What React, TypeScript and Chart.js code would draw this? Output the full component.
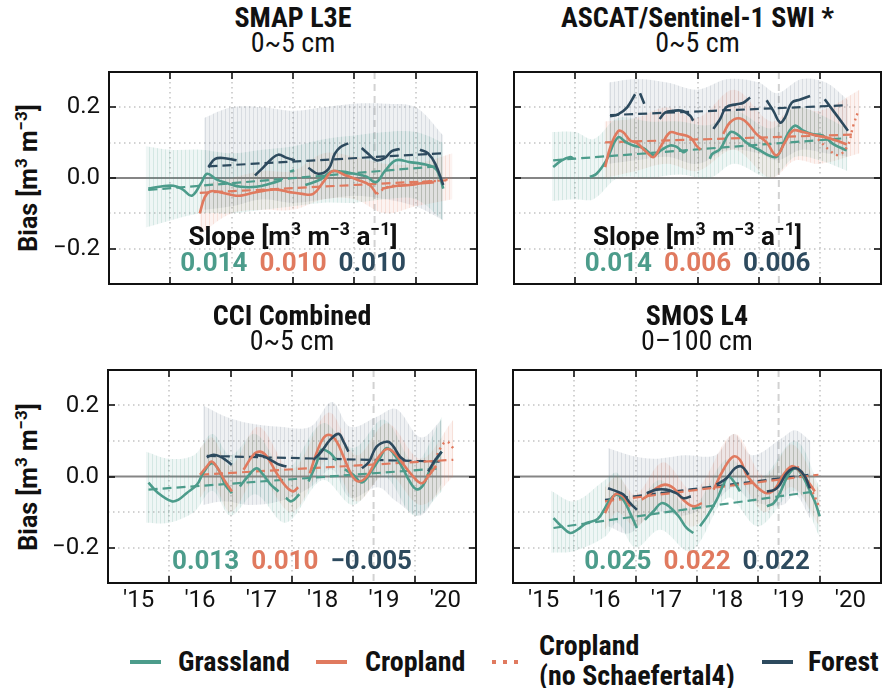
import React, { useEffect, useRef } from 'react';
import { Chart, registerables } from 'chart.js';
Chart.register(...registerables);

type Pt = [number, number] | null;
type Bd = [number, number, number];

// ---------- axis / tick values ----------
const X_LABEL_POS = [2015.5, 2016.5, 2017.5, 2018.5, 2019.5, 2020.5];
const X_GRID = [2016, 2017, 2018, 2019, 2020];
const Y_TICKS = [-0.2, 0, 0.2];
const Y_GRID = [-0.2, -0.1, 0.1, 0.2];
const MARKER_YEAR = 2019.33;

// ---------- SMAP L3E ----------
const smapGrass: Pt[] = [[2015.64,-0.030],[2015.85,-0.024],[2016.05,-0.022],[2016.2,-0.032],[2016.35,-0.05],[2016.5,-0.015],[2016.6,0.012],[2016.75,-0.004],[2016.95,-0.016],[2017.15,-0.025],[2017.4,-0.025],[2017.65,-0.015],[2017.82,-0.006],null,[2017.95,0.018],[2018.02,0.022],null,[2018.2,-0.02],[2018.45,-0.004],[2018.62,0.018],[2018.8,0.018],[2019.0,0.012],[2019.2,0.004],[2019.35,-0.012],[2019.5,0.02],[2019.68,0.05],[2019.9,0.045],[2020.1,0.04],[2020.3,0.03],[2020.38,0.01],[2020.45,-0.03]];
const smapCrop: Pt[] = [[2016.48,-0.10],[2016.56,-0.055],[2016.65,-0.038],[2016.8,-0.04],[2017.0,-0.048],[2017.15,-0.05],[2017.35,-0.042],[2017.55,-0.035],[2017.75,-0.033],[2017.95,-0.04],[2018.15,-0.045],[2018.33,-0.045],[2018.5,-0.01],[2018.65,0.02],[2018.85,0.008],[2019.05,-0.005],[2019.25,-0.02],[2019.36,-0.045],null,[2019.45,-0.03],[2019.7,-0.022],[2019.9,-0.02],[2020.1,-0.015],[2020.3,-0.012]];
const smapCropNoS4: Pt[] = [[2019.36,-0.045],[2019.55,-0.025],[2019.8,-0.02],[2020.1,-0.012],[2020.35,-0.008],[2020.56,-0.003]];
const smapForest: Pt[] = [[2016.62,0.031],[2016.73,0.054],[2016.89,0.056],[2017.08,0.05],null,[2017.38,0.007],[2017.52,0.031],[2017.65,0.054],[2017.76,0.066],[2017.9,0.057],[2018.03,0.05],null,[2018.25,0.029],[2018.41,0.012],[2018.58,0.026],[2018.68,0.068],[2018.77,0.087],[2018.9,0.098],null,[2019.12,0.085],[2019.23,0.068],[2019.36,0.05],[2019.5,0.057],[2019.61,0.076],[2019.74,0.082],null,[2020.07,0.08],[2020.2,0.07],[2020.32,0.04],[2020.45,-0.02]];
const smapGrassTrend: Pt[] = [[2015.64,-0.034],[2020.35,0.033]];
const smapCropTrend: Pt[] = [[2016.48,-0.042],[2020.56,-0.006]];
const smapForestTrend: Pt[] = [[2016.62,0.033],[2020.42,0.07]];
const smapGrassBand: Bd[] = [[2015.6,-0.14,0.09],[2016.0,-0.12,0.08],[2016.5,-0.10,0.08],[2017.0,-0.10,0.07],[2017.5,-0.09,0.08],[2018.0,-0.08,0.09],[2018.5,-0.07,0.11],[2019.0,-0.07,0.12],[2019.5,-0.06,0.13],[2020.0,-0.06,0.13],[2020.45,-0.12,0.1]];
const smapCropBand: Bd[] = [[2016.48,-0.16,-0.02],[2017.0,-0.1,0.0],[2017.5,-0.09,0.02],[2018.0,-0.09,0.02],[2018.5,-0.06,0.07],[2019.0,-0.06,0.06],[2019.5,-0.1,0.04],[2020.0,-0.08,0.04],[2020.6,-0.06,0.07]];
const smapForestBand: Bd[] = [[2016.55,-0.09,0.17],[2017.0,-0.08,0.2],[2017.5,-0.06,0.2],[2018.0,-0.07,0.19],[2018.5,-0.06,0.2],[2019.0,-0.05,0.21],[2019.5,-0.06,0.21],[2020.0,-0.08,0.2],[2020.45,-0.12,0.12]];
const smapSlopes = ['0.014', '0.010', '0.010'];

// ---------- ASCAT/Sentinel-1 SWI ----------
const ascatGrass: Pt[] = [[2015.64,0.031],[2015.78,0.05],[2015.92,0.059],[2015.97,0.055],null,[2016.24,0.003],[2016.35,0.012],[2016.51,0.05],[2016.7,0.115],[2016.84,0.1],[2016.95,0.092],[2017.11,0.085],[2017.28,0.064],[2017.4,0.078],[2017.55,0.092],[2017.66,0.088],[2017.77,0.073],[2017.82,0.078],null,[2018.2,0.054],[2018.24,0.068],[2018.37,0.082],[2018.53,0.129],[2018.64,0.125],[2018.8,0.1],[2019.0,0.08],[2019.27,0.059],[2019.36,0.078],[2019.46,0.12],[2019.59,0.148],[2019.72,0.135],[2019.86,0.125],[2020.05,0.12],[2020.22,0.096],[2020.44,0.078]];
const ascatCrop: Pt[] = [[2016.49,0.031],[2016.58,0.09],[2016.7,0.132],[2016.78,0.13],[2016.9,0.106],[2017.0,0.1],[2017.17,0.073],[2017.28,0.059],[2017.4,0.09],[2017.55,0.129],[2017.68,0.125],[2017.88,0.115],[2017.98,0.092],[2018.05,0.08],null,[2018.42,0.125],[2018.53,0.157],[2018.67,0.169],[2018.8,0.158],[2018.96,0.125],[2019.13,0.101],[2019.29,0.064],[2019.43,0.101],[2019.56,0.134],[2019.72,0.13],[2019.95,0.12],[2020.1,0.115],[2020.27,0.106],[2020.44,0.095]];
const ascatCropNoS4: Pt[] = [[2019.97,0.11],[2020.15,0.08],[2020.3,0.065],[2020.45,0.09],[2020.55,0.15],[2020.63,0.19]];
const ascatForest: Pt[] = [[2016.57,0.175],[2016.7,0.18],[2016.85,0.2],[2016.98,0.237],null,[2017.06,0.24],[2017.13,0.21],null,[2017.38,0.167],[2017.47,0.185],[2017.6,0.19],[2017.75,0.19],[2017.88,0.176],[2017.93,0.162],null,[2018.26,0.139],[2018.37,0.167],[2018.47,0.2],[2018.64,0.209],[2018.75,0.213],[2018.86,0.228],null,[2019.13,0.22],[2019.24,0.19],[2019.35,0.157],[2019.43,0.171],[2019.54,0.213],[2019.68,0.222],[2019.84,0.232],null,[2020.08,0.223],[2020.22,0.19],[2020.38,0.153],[2020.46,0.134]];
const ascatGrassTrend: Pt[] = [[2015.64,0.05],[2020.44,0.113]];
const ascatCropTrend: Pt[] = [[2016.49,0.101],[2020.6,0.123]];
const ascatForestTrend: Pt[] = [[2016.57,0.178],[2020.46,0.206]];
const ascatGrassBand: Bd[] = [[2015.62,-0.065,0.13],[2016.0,-0.06,0.13],[2016.3,-0.06,0.11],[2016.7,0.0,0.17],[2017.2,0.0,0.16],[2017.7,0.01,0.16],[2018.2,0.0,0.15],[2018.6,0.04,0.19],[2019.2,0.0,0.14],[2019.6,0.06,0.2],[2020.0,0.05,0.18],[2020.45,0.02,0.14]];
const ascatCropBand: Bd[] = [[2016.48,0.0,0.16],[2017.0,0.02,0.17],[2017.5,0.04,0.2],[2018.0,0.02,0.17],[2018.6,0.08,0.25],[2019.2,0.0,0.16],[2019.6,0.05,0.2],[2020.0,0.04,0.19],[2020.65,0.07,0.25]];
const ascatForestBand: Bd[] = [[2016.55,0.04,0.27],[2017.0,0.05,0.28],[2017.5,0.06,0.27],[2018.0,0.04,0.25],[2018.5,0.08,0.28],[2019.0,0.07,0.27],[2019.3,0.05,0.24],[2019.7,0.08,0.28],[2020.1,0.07,0.27],[2020.46,0.06,0.22]];
const ascatSlopes = ['0.014', '0.006', '0.006'];

// ---------- CCI Combined ----------
const cciGrass: Pt[] = [[2015.66,-0.017],[2015.82,-0.047],[2016.04,-0.07],[2016.15,-0.065],[2016.28,-0.047],[2016.45,-0.023],[2016.55,0.009],[2016.69,0.037],[2016.8,0.02],[2016.91,-0.023],[2017.02,-0.047],null,[2017.15,-0.028],[2017.28,0.0],[2017.42,0.023],[2017.53,0.005],[2017.65,-0.022],[2017.78,-0.042],null,[2017.9,-0.06],[2017.99,-0.07],[2018.12,-0.05],null,[2018.27,-0.014],[2018.4,0.037],[2018.48,0.075],[2018.62,0.066],[2018.72,0.045],null,[2018.86,0.02],[2019.0,0.005],[2019.14,-0.017],[2019.27,0.009],[2019.43,0.051],[2019.54,0.08],[2019.65,0.066],[2019.79,0.028],[2019.92,-0.014],[2020.03,-0.036],[2020.14,-0.024],[2020.25,0.019],[2020.44,0.07]];
const cciCrop: Pt[] = [[2016.5,0.005],[2016.61,0.028],[2016.69,0.042],[2016.8,0.02],[2016.91,-0.014],[2017.02,-0.042],null,[2017.21,0.019],[2017.37,0.061],[2017.48,0.07],[2017.59,0.056],[2017.75,0.009],[2017.9,-0.028],[2018.02,-0.042],[2018.1,-0.03],null,[2018.29,0.009],[2018.4,0.066],[2018.51,0.108],[2018.62,0.117],[2018.73,0.098],[2018.84,0.056],[2018.97,0.005],[2019.08,-0.014],[2019.22,0.0],[2019.38,0.047],[2019.54,0.077],[2019.65,0.07],[2019.76,0.047],[2019.95,0.005],[2020.11,-0.019],[2020.22,0.0],[2020.35,0.03]];
const cciCropNoS4: Pt[] = [[2020.2,0.0],[2020.32,0.04],[2020.42,0.08],[2020.52,0.098],[2020.63,0.08]];
const cciForest: Pt[] = [[2016.61,0.054],[2016.72,0.061],[2016.83,0.056],[2016.93,0.045],[2017.02,0.033],null,[2017.4,0.061],[2017.55,0.056],[2017.7,0.042],[2017.8,0.033],[2017.91,0.028],null,[2018.35,0.047],[2018.48,0.07],[2018.62,0.103],[2018.76,0.12],[2018.84,0.098],[2018.92,0.07],null,[2019.14,0.023],[2019.25,0.04],[2019.38,0.084],[2019.54,0.098],[2019.63,0.09],[2019.76,0.056],[2019.84,0.045],null,[2020.22,0.014],[2020.33,0.045],[2020.44,0.07]];
const cciGrassTrend: Pt[] = [[2015.66,-0.037],[2020.44,0.023]];
const cciCropTrend: Pt[] = [[2016.5,0.005],[2020.63,0.047]];
const cciForestTrend: Pt[] = [[2016.61,0.058],[2020.44,0.042]];
const cciGrassBand: Bd[] = [[2015.62,-0.13,0.07],[2016.0,-0.13,0.05],[2016.4,-0.1,0.06],[2016.7,-0.04,0.12],[2017.0,-0.11,0.06],[2017.4,-0.05,0.12],[2017.9,-0.13,0.02],[2018.5,-0.01,0.15],[2019.0,-0.08,0.08],[2019.5,0.0,0.16],[2020.0,-0.11,0.04],[2020.45,-0.04,0.17]];
const cciCropBand: Bd[] = [[2016.5,-0.06,0.08],[2016.7,-0.02,0.11],[2017.0,-0.1,0.03],[2017.45,0.0,0.14],[2018.0,-0.1,0.02],[2018.6,0.05,0.18],[2019.05,-0.07,0.06],[2019.55,0.01,0.15],[2020.1,-0.08,0.05],[2020.63,0.0,0.16]];
const cciForestBand: Bd[] = [[2016.55,-0.08,0.2],[2016.9,-0.07,0.17],[2017.3,-0.08,0.15],[2017.8,-0.07,0.14],[2018.3,-0.03,0.14],[2018.65,0.02,0.21],[2018.95,-0.06,0.14],[2019.4,-0.03,0.17],[2019.7,-0.07,0.19],[2020.1,-0.11,0.11],[2020.44,-0.02,0.16]];
const cciSlopes = ['0.013', '0.010', '\u22120.005'];

// ---------- SMOS L4 ----------
const smosGrass: Pt[] = [[2015.66,-0.117],[2015.79,-0.14],[2015.93,-0.159],[2016.05,-0.15],[2016.2,-0.131],[2016.38,-0.12],[2016.5,-0.089],[2016.58,-0.066],[2016.69,-0.051],[2016.8,-0.066],[2016.91,-0.103],[2017.02,-0.145],null,[2017.15,-0.122],[2017.29,-0.098],[2017.42,-0.075],[2017.55,-0.085],[2017.7,-0.112],[2017.83,-0.145],[2017.94,-0.159],null,[2018.05,-0.14],[2018.18,-0.108],[2018.32,-0.066],[2018.43,-0.023],[2018.51,0.0],[2018.6,-0.014],[2018.7,-0.042],null,[2019.14,-0.084],[2019.25,-0.075],[2019.35,-0.047],[2019.49,0.005],[2019.6,0.023],[2019.71,0.005],[2019.82,-0.033],[2019.92,-0.07],[2020.0,-0.112]];
const smosCrop: Pt[] = [[2016.5,-0.103],[2016.58,-0.075],[2016.66,-0.051],[2016.74,-0.05],[2016.82,-0.06],[2016.91,-0.085],null,[2017.1,-0.065],[2017.18,-0.056],[2017.34,-0.033],[2017.48,-0.023],[2017.62,-0.033],[2017.78,-0.066],[2017.94,-0.084],[2018.08,-0.075],null,[2018.27,-0.037],[2018.43,0.019],[2018.59,0.056],[2018.7,0.047],[2018.81,0.005],[2018.97,-0.028],[2019.14,-0.047],[2019.27,-0.035],[2019.41,0.005],[2019.54,0.028],[2019.65,0.02],[2019.79,-0.009],[2019.92,-0.042]];
const smosCropNoS4: Pt[] = [[2019.46,0.018],[2019.57,0.03],[2019.68,0.02],[2019.82,-0.02],[2019.98,-0.08]];
const smosForest: Pt[] = [[2016.55,-0.033],[2016.69,-0.042],[2016.8,-0.051],[2016.91,-0.075],[2017.02,-0.094],null,[2017.18,-0.047],[2017.34,-0.037],[2017.5,-0.037],[2017.66,-0.047],[2017.78,-0.061],[2017.9,-0.056],null,[2018.32,-0.023],[2018.48,-0.005],[2018.62,0.023],[2018.73,0.028],[2018.84,0.005],null,[2019.14,-0.042],[2019.27,-0.037],[2019.35,-0.023],[2019.46,0.009],[2019.57,0.023],[2019.66,0.02],[2019.76,0.0],[2019.84,-0.033]];
const smosGrassTrend: Pt[] = [[2015.66,-0.145],[2019.92,-0.042]];
const smosCropTrend: Pt[] = [[2016.5,-0.07],[2019.98,0.005]];
const smosForestTrend: Pt[] = [[2016.5,-0.066],[2019.84,0.005]];
const smosGrassBand: Bd[] = [[2015.62,-0.215,-0.04],[2016.0,-0.21,-0.07],[2016.5,-0.17,-0.01],[2016.7,-0.13,0.01],[2017.0,-0.2,-0.07],[2017.4,-0.15,-0.01],[2017.9,-0.21,-0.09],[2018.5,-0.06,0.05],[2019.0,-0.14,-0.01],[2019.6,-0.04,0.1],[2020.0,-0.17,-0.03]];
const smosCropBand: Bd[] = [[2016.5,-0.15,-0.03],[2016.7,-0.1,0.0],[2017.0,-0.14,-0.05],[2017.45,-0.08,0.04],[2017.95,-0.14,-0.04],[2018.6,0.0,0.12],[2019.1,-0.1,0.0],[2019.55,-0.03,0.09],[2020.0,-0.14,-0.04]];
const smosForestBand: Bd[] = [[2016.55,-0.14,0.08],[2016.9,-0.16,0.06],[2017.3,-0.1,0.05],[2017.8,-0.11,0.06],[2018.3,-0.07,0.06],[2018.6,-0.03,0.12],[2018.9,-0.07,0.06],[2019.4,-0.08,0.11],[2019.6,-0.05,0.13],[2019.85,-0.12,0.1]];
const smosSlopes = ['0.025', '0.022', '0.022'];

// ---------- styling ----------
const C_GRASS = '#4c9c8b';
const C_CROP = '#e07a5f';
const C_FOREST = '#2d4a5e';
const COND = '"Roboto Condensed", "Liberation Sans Narrow", "Arial Narrow", "DejaVu Sans Condensed", sans-serif';
const ROBOTO = 'Roboto, "Liberation Sans", sans-serif';

const YW = 60, XH = 40, PADT = 6, PADR = 6;

interface PanelCfg {
  title: string; depth: string;
  left: number; top: number; right: number; bottom: number;
  showX: boolean; showY: boolean; slopeTitle: boolean;
  grass: Pt[]; crop: Pt[]; cropNoS4: Pt[]; forest: Pt[];
  grassTrend: Pt[]; cropTrend: Pt[]; forestTrend: Pt[];
  grassBand: Bd[]; cropBand: Bd[]; forestBand: Bd[];
  slopes: string[];
}

const PANELS: PanelCfg[] = [
  { title: 'SMAP L3E', depth: '0~5 cm', left: 109, top: 72, right: 477, bottom: 284, showX: false, showY: true, slopeTitle: true,
    grass: smapGrass, crop: smapCrop, cropNoS4: smapCropNoS4, forest: smapForest,
    grassTrend: smapGrassTrend, cropTrend: smapCropTrend, forestTrend: smapForestTrend,
    grassBand: smapGrassBand, cropBand: smapCropBand, forestBand: smapForestBand, slopes: smapSlopes },
  { title: 'ASCAT/Sentinel-1 SWI *', depth: '0~5 cm', left: 514, top: 72, right: 881, bottom: 284, showX: false, showY: false, slopeTitle: true,
    grass: ascatGrass, crop: ascatCrop, cropNoS4: ascatCropNoS4, forest: ascatForest,
    grassTrend: ascatGrassTrend, cropTrend: ascatCropTrend, forestTrend: ascatForestTrend,
    grassBand: ascatGrassBand, cropBand: ascatCropBand, forestBand: ascatForestBand, slopes: ascatSlopes },
  { title: 'CCI Combined', depth: '0~5 cm', left: 108, top: 370, right: 476, bottom: 583, showX: true, showY: true, slopeTitle: false,
    grass: cciGrass, crop: cciCrop, cropNoS4: cciCropNoS4, forest: cciForest,
    grassTrend: cciGrassTrend, cropTrend: cciCropTrend, forestTrend: cciForestTrend,
    grassBand: cciGrassBand, cropBand: cciCropBand, forestBand: cciForestBand, slopes: cciSlopes },
  { title: 'SMOS L4', depth: '0\u2013100 cm', left: 513, top: 370, right: 881, bottom: 583, showX: true, showY: false, slopeTitle: false,
    grass: smosGrass, crop: smosCrop, cropNoS4: smosCropNoS4, forest: smosForest,
    grassTrend: smosGrassTrend, cropTrend: smosCropTrend, forestTrend: smosForestTrend,
    grassBand: smosGrassBand, cropBand: smosCropBand, forestBand: smosForestBand, slopes: smosSlopes },
];

function toPts(arr: Pt[]) {
  const out: { x: number; y: number | null }[] = [];
  let lastX = 2015;
  for (const p of arr) {
    if (p) { out.push({ x: p[0], y: p[1] }); lastX = p[0]; }
    else out.push({ x: lastX + 0.0001, y: null });
  }
  return out;
}

function makePattern(r: number, g: number, b: number, a1: number, a2: number) {
  const c = document.createElement('canvas');
  c.width = 4; c.height = 4;
  const x = c.getContext('2d')!;
  x.fillStyle = `rgba(${r},${g},${b},${a1})`;
  x.fillRect(0, 0, 4, 4);
  x.fillStyle = `rgba(${r},${g},${b},${a2})`;
  x.fillRect(0, 0, 1, 4);
  return x.createPattern(c, 'repeat')!;
}

const framePlugin = {
  id: 'frame',
  beforeDatasetsDraw(chart: any) {
    const { ctx, chartArea: a, scales } = chart;
    const xs = scales.x, ys = scales.y;
    ctx.save();
    ctx.lineWidth = 1.5;
    ctx.strokeStyle = '#c4c4c4';
    ctx.setLineDash([1.5, 3.5]);
    X_GRID.forEach((v) => {
      const p = Math.round(xs.getPixelForValue(v));
      ctx.beginPath(); ctx.moveTo(p, a.top); ctx.lineTo(p, a.bottom); ctx.stroke();
    });
    Y_GRID.forEach((v) => {
      const p = Math.round(ys.getPixelForValue(v));
      ctx.beginPath(); ctx.moveTo(a.left, p); ctx.lineTo(a.right, p); ctx.stroke();
    });
    ctx.setLineDash([7, 5]);
    ctx.strokeStyle = '#d2d2d2';
    ctx.lineWidth = 2;
    const m = xs.getPixelForValue(MARKER_YEAR);
    ctx.beginPath(); ctx.moveTo(m, a.top); ctx.lineTo(m, a.bottom); ctx.stroke();
    ctx.setLineDash([]);
    ctx.strokeStyle = '#858585';
    ctx.lineWidth = 2;
    const z = ys.getPixelForValue(0);
    ctx.beginPath(); ctx.moveTo(a.left, z); ctx.lineTo(a.right, z); ctx.stroke();
    ctx.restore();
  },
  afterDatasetsDraw(chart: any) {
    const { ctx, chartArea: a, scales } = chart;
    const xs = scales.x, ys = scales.y;
    ctx.save();
    ctx.strokeStyle = '#111';
    ctx.lineWidth = 1.6;
    const tl = 7;
    X_GRID.forEach((v) => {
      const p = Math.round(xs.getPixelForValue(v));
      ctx.beginPath(); ctx.moveTo(p, a.bottom); ctx.lineTo(p, a.bottom - tl); ctx.stroke();
      ctx.beginPath(); ctx.moveTo(p, a.top); ctx.lineTo(p, a.top + tl); ctx.stroke();
    });
    Y_TICKS.forEach((v) => {
      const p = Math.round(ys.getPixelForValue(v));
      ctx.beginPath(); ctx.moveTo(a.left, p); ctx.lineTo(a.left + tl, p); ctx.stroke();
      ctx.beginPath(); ctx.moveTo(a.right, p); ctx.lineTo(a.right - tl, p); ctx.stroke();
    });
    ctx.lineWidth = 2;
    ctx.strokeRect(a.left, a.top, a.right - a.left, a.bottom - a.top);
    ctx.restore();
  },
};

function Panel({ cfg }: { cfg: PanelCfg }) {
  const ref = useRef<HTMLCanvasElement>(null);
  const W = cfg.right - cfg.left + YW + PADR;
  const H = cfg.bottom - cfg.top + PADT + XH;
  useEffect(() => {
    const pGrass = makePattern(76, 156, 139, 0.09, 0.16);
    const pCrop = makePattern(224, 122, 95, 0.09, 0.16);
    const pForest = makePattern(100, 120, 138, 0.10, 0.17);
    const band = (b: Bd[], idx: 1 | 2) => b.map((r) => ({ x: r[0], y: r[idx] }));
    const bandDs = (b: Bd[], pat: CanvasPattern, order: number) => [
      { data: band(b, 1), borderWidth: 0, pointRadius: 0, fill: false, tension: 0.35, order },
      { data: band(b, 2), borderWidth: 0, pointRadius: 0, fill: '-1', backgroundColor: pat, tension: 0.35, order },
    ];
    const lineDs = (p: Pt[], color: string, order: number, dash: number[] = [], width = 2.6) => ({
      data: toPts(p), borderColor: color, borderWidth: width, borderDash: dash, pointRadius: 0,
      fill: false, tension: 0.4, spanGaps: false, order, borderCapStyle: 'butt',
    });
    const datasets: any[] = [
      ...bandDs(cfg.forestBand, pForest, 30),
      ...bandDs(cfg.cropBand, pCrop, 29),
      ...bandDs(cfg.grassBand, pGrass, 28),
      lineDs(cfg.grassTrend, C_GRASS, 10, [9, 5], 2.2),
      lineDs(cfg.cropTrend, C_CROP, 10, [9, 5], 2.2),
      lineDs(cfg.forestTrend, C_FOREST, 10, [9, 5], 2.2),
      lineDs(cfg.grass, C_GRASS, 3),
      lineDs(cfg.crop, C_CROP, 2),
      lineDs(cfg.cropNoS4, C_CROP, 1, [2, 4], 2.4),
      lineDs(cfg.forest, C_FOREST, 0),
    ];
    const chart = new Chart(ref.current!, {
      type: 'line',
      data: { datasets },
      options: {
        animation: false,
        responsive: false,
        maintainAspectRatio: false,
        events: [],
        layout: { padding: { top: PADT, right: PADR, left: 0, bottom: 0 } },
        plugins: { legend: { display: false }, tooltip: { enabled: false } },
        scales: {
          x: {
            type: 'linear', min: 2015, max: 2021,
            grid: { display: false, drawTicks: false },
            border: { display: false },
            afterBuildTicks: (s: any) => { s.ticks = X_LABEL_POS.map((v) => ({ value: v })); },
            afterFit: (s: any) => { s.height = XH; s.paddingLeft = 0; s.paddingRight = 0; },
            ticks: {
              display: cfg.showX, autoSkip: false, maxRotation: 0, padding: 4, color: '#111',
              font: { family: ROBOTO, size: 24 },
              callback: (v: any) => "'" + String(Math.floor(Number(v))).slice(2),
            },
          },
          y: {
            type: 'linear', min: -0.3, max: 0.3,
            grid: { display: false, drawTicks: false },
            border: { display: false },
            afterBuildTicks: (s: any) => { s.ticks = Y_TICKS.map((v) => ({ value: v })); },
            afterFit: (s: any) => { s.width = YW; s.paddingTop = 0; s.paddingBottom = 0; },
            ticks: {
              display: cfg.showY, padding: 9, color: '#111',
              font: { family: ROBOTO, size: 24 },
              callback: (v: any) => {
                const n = Number(v);
                if (Math.abs(n) < 1e-9) return '0.0';
                return (n < 0 ? '\u2212' : '') + Math.abs(n).toFixed(1);
              },
            },
          },
        },
      },
      plugins: [framePlugin],
    } as any);
    return () => chart.destroy();
  }, []);
  return (
    <canvas ref={ref} width={W} height={H}
      style={{ position: 'absolute', left: cfg.left - YW, top: cfg.top - PADT, width: W, height: H }} />
  );
}

const sup: React.CSSProperties = { fontSize: '0.68em', verticalAlign: 'super', lineHeight: 0 };

function Texts({ cfg }: { cfg: PanelCfg }) {
  const cx = (cfg.left + cfg.right) / 2;
  const cy = (cfg.top + cfg.bottom) / 2;
  const center: React.CSSProperties = { position: 'absolute', transform: 'translate(-50%,-50%)', whiteSpace: 'nowrap', lineHeight: 1 };
  return (
    <>
      <div style={{ ...center, left: cx, top: cfg.top - 54, fontFamily: COND, fontWeight: 700, fontSize: 28, color: '#111' }}>{cfg.title}</div>
      <div style={{ ...center, left: cx, top: cfg.top - 29, fontFamily: COND, fontWeight: 400, fontSize: 28, color: '#111' }}>{cfg.depth}</div>
      {cfg.showY && (
        <div style={{ ...center, left: 28, top: cy, transform: 'translate(-50%,-50%) rotate(-90deg)', fontFamily: ROBOTO, fontWeight: 700, fontSize: 25, color: '#111' }}>
          Bias [m<span style={sup}>3</span> m<span style={sup}>{'\u22123'}</span>]
        </div>
      )}
      {cfg.slopeTitle && (
        <div style={{ ...center, left: cx, top: cfg.top + 164, fontFamily: ROBOTO, fontWeight: 700, fontSize: 26, color: '#111' }}>
          Slope [m<span style={sup}>3</span> m<span style={sup}>{'\u22123'}</span> a<span style={sup}>{'\u22121'}</span>]
        </div>
      )}
      <div style={{ ...center, left: cx, top: cfg.top + 190, display: 'flex', gap: 12, fontFamily: ROBOTO, fontWeight: 700, fontSize: 26 }}>
        <span style={{ color: C_GRASS }}>{cfg.slopes[0]}</span>
        <span style={{ color: C_CROP }}>{cfg.slopes[1]}</span>
        <span style={{ color: C_FOREST }}>{cfg.slopes[2]}</span>
      </div>
    </>
  );
}

function Legend() {
  const txt: React.CSSProperties = { position: 'absolute', fontFamily: COND, fontWeight: 700, fontSize: 28, color: '#111', lineHeight: 1, whiteSpace: 'nowrap', transform: 'translateY(-50%)' };
  const ln = (left: number, color: string): React.CSSProperties => ({ position: 'absolute', left, top: 660, width: 31, height: 4, background: color });
  return (
    <>
      <div style={ln(130, C_GRASS)} />
      <div style={{ ...txt, left: 178, top: 662 }}>Grassland</div>
      <div style={ln(316, C_CROP)} />
      <div style={{ ...txt, left: 365, top: 662 }}>Cropland</div>
      <div style={{ position: 'absolute', left: 492, top: 660, width: 30, height: 4, background: `repeating-linear-gradient(90deg, ${C_CROP} 0 4px, transparent 4px 11px)` }} />
      <div style={{ ...txt, left: 539, top: 646 }}>Cropland</div>
      <div style={{ ...txt, left: 539, top: 676 }}>(no Schaefertal4)</div>
      <div style={ln(762, C_FOREST)} />
      <div style={{ ...txt, left: 808, top: 662 }}>Forest</div>
    </>
  );
}

export default function App() {
  return (
    <div style={{ position: 'fixed', left: 0, top: 0, width: 885, height: 688, background: '#fff', overflow: 'hidden' }}>
      {PANELS.map((p, i) => <Panel key={i} cfg={p} />)}
      {PANELS.map((p, i) => <Texts key={'t' + i} cfg={p} />)}
      <Legend />
    </div>
  );
}
